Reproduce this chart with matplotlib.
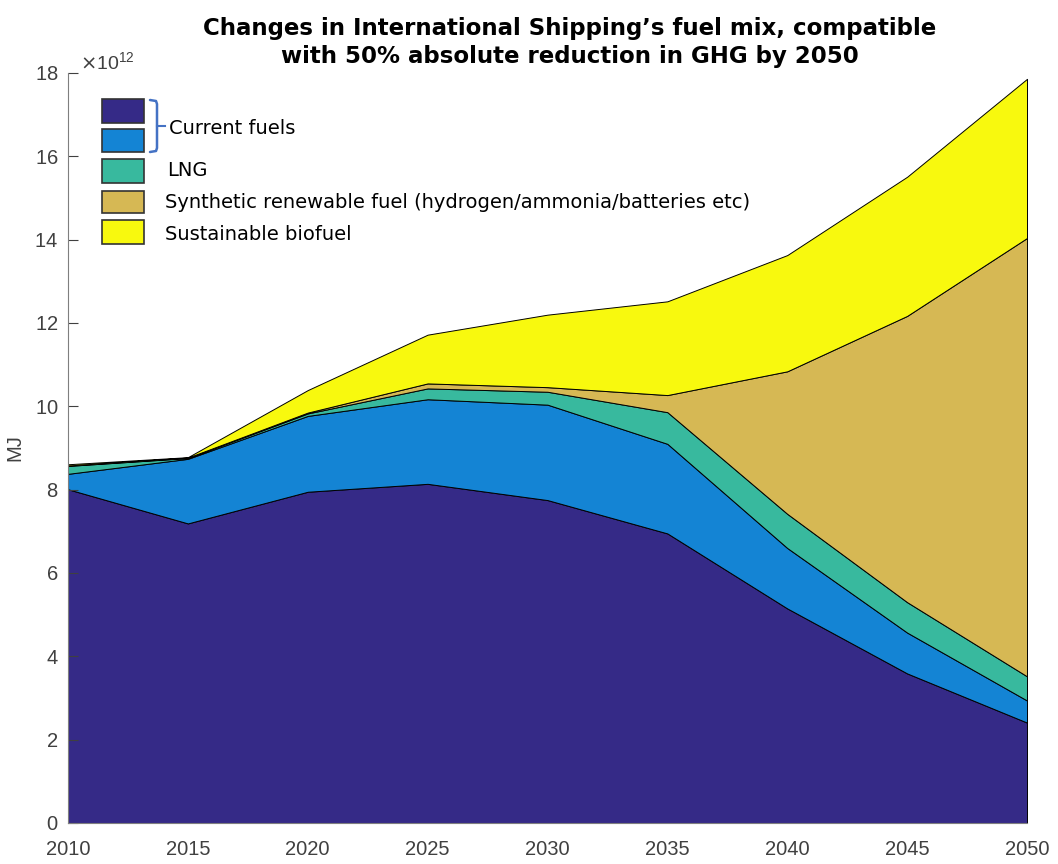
import matplotlib
matplotlib.use("Agg")
import matplotlib.pyplot as plt
from matplotlib.patches import Rectangle
from matplotlib.ticker import ScalarFormatter

# data (units of 1e12 MJ)
years = [2010, 2015, 2020, 2025, 2030, 2035, 2040, 2045, 2050]
fuel_a = [8.01, 7.19, 7.95, 8.14, 7.75, 6.95, 5.15, 3.59, 2.41]
fuel_b = [0.37, 1.55, 1.82, 2.03, 2.29, 2.15, 1.45, 0.98, 0.53]
lng = [0.19, 0.02, 0.06, 0.26, 0.31, 0.76, 0.82, 0.73, 0.58]
synthetic = [0.01, 0.01, 0.02, 0.12, 0.11, 0.41, 3.42, 6.87, 10.52]
biofuel = [0.03, 0.01, 0.54, 1.17, 1.74, 2.25, 2.79, 3.34, 3.82]

series = [fuel_a, fuel_b, lng, synthetic, biofuel]
colors = ['#352a87', '#1484d4', '#38b99e', '#d6b854', '#f8f90e']
labels = ['Current fuels', 'LNG',
          'Synthetic renewable fuel (hydrogen/ammonia/batteries etc)',
          'Sustainable biofuel']
title_lines = ["Changes in International Shipping\u2019s fuel mix, compatible",
               "with 50% absolute reduction in GHG by 2050"]

W, H = 1058, 864
fig = plt.figure(figsize=(W / 100, H / 100), dpi=100)
ax = fig.add_axes([68 / W, 1 - 823 / H, (1027 - 68) / W, (823 - 73) / H])

ax.stackplot(years, [[v * 1e12 for v in s] for s in series], colors=colors,
             edgecolor='black', linewidth=0.7)

ax.set_xlim(2010, 2050)
ax.set_ylim(0, 18e12)
ax.set_xticks(years)
ax.set_yticks([i * 2e12 for i in range(10)])
fmt = ScalarFormatter(useMathText=True)
fmt.set_powerlimits((12, 12))
ax.yaxis.set_major_formatter(fmt)
off = ax.yaxis.get_offset_text()
off.set_fontsize(14)
off.set_color('#707070')
off.set_family('Liberation Sans')
off.set_x(0.012)
ax.tick_params(axis='both', direction='in', labelsize=14.5, colors='#404040',
               length=7, width=0.8)
ax.tick_params(axis='y', pad=7)
ax.tick_params(axis='x', length=0, pad=12)
for lab in ax.get_xticklabels() + ax.get_yticklabels():
    lab.set_family('Liberation Sans')
for side in ['top', 'right']:
    ax.spines[side].set_visible(False)
for side in ['left', 'bottom']:
    ax.spines[side].set_color('#7f7f7f')
    ax.spines[side].set_linewidth(0.8)
ax.set_ylabel('MJ', fontsize=14.5, color='#404040', family='Liberation Sans')
ax.yaxis.set_label_coords(-0.045, 0.5)

# overlay in pixel coordinates for the pasted legend and title
ov = fig.add_axes([0, 0, 1, 1], zorder=5)
ov.set_xlim(0, W)
ov.set_ylim(H, 0)
ov.axis('off')
ov.patch.set_alpha(0)

for i, (y0, y1) in enumerate([(99, 123), (129, 152), (159, 183), (191, 213), (220, 244)]):
    ov.add_patch(Rectangle((102, y0), 42, y1 - y0, facecolor=colors[i],
                           edgecolor='#333333', linewidth=1.2))

# bracket around the two current-fuel boxes
ov.plot([150, 156, 157, 157, 156, 150], [100, 101, 104, 148, 151, 152],
        color='#4472c4', linewidth=1.8, solid_capstyle='round')
ov.plot([157, 165], [126, 126], color='#4472c4', linewidth=1.5)

lfont = dict(family='DejaVu Sans', fontsize=14, color='black', va='center')
ov.text(169, 128, labels[0], **lfont)
ov.text(167, 171, labels[1], **lfont)
ov.text(165, 202, labels[2], **lfont)
ov.text(165, 235, labels[3], **lfont)

tfont = dict(family='DejaVu Sans', fontsize=16.5, fontweight='bold',
             color='black', ha='center', va='center')
ov.text(570, 28, title_lines[0], **tfont)
ov.text(570, 57, title_lines[1], **tfont)

fig.savefig('out.png', dpi=100)
